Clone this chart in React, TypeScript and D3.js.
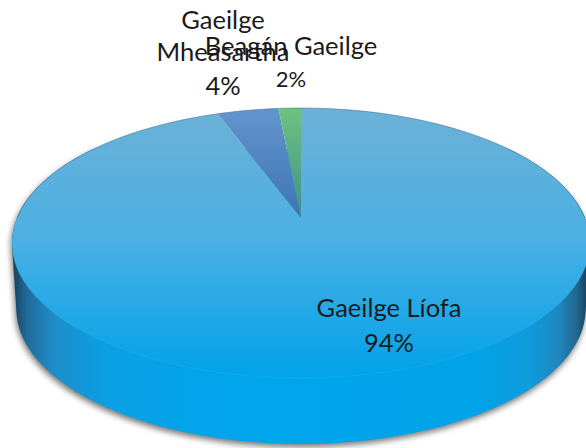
import React from "react";
import * as d3 from "d3";

const categories = ["Gaeilge Líofa", "Gaeilge Mheasartha", "Beagán Gaeilge"];
const sliceValues = [94.4, 4.1, 1.5];
const percentLabels = ["94%", "4%", "2%"];
const sliceColors = ["url(#topGrad)", "url(#midGrad)", "url(#greenGrad)"];

const W = 586, H = 448;
const apexX = 301, apexY = 218;
const persp = 0.185, scaleX = 284, scaleY = -90;
const depth = 66;

// perspective projection of the unit pie disc on to the page
const project = (a: number, lift = 0, shrink = 1): [number, number] => {
  const u = Math.sin(a), v = Math.cos(a);
  const d = 1 + persp * v;
  return [apexX + (scaleX * shrink * u) / d, (apexY + scaleY * v) / d + lift];
};

const line = d3.line();
const arcPoints = (a0: number, a1: number, lift = 0, shrink = 1) =>
  d3.range(0, 121).map((i) => project(a0 + ((a1 - a0) * i) / 120, lift, shrink));

const pie = d3.pie<number>().sort(null).startAngle(0).endAngle(2 * Math.PI);
const arcs = pie(sliceValues);

const slicePath = (a0: number, a1: number) =>
  line([[apexX, apexY], ...arcPoints(a0, a1)]) + "Z";

// silhouette of the disc's side wall: convex hull of top rim and bottom rim
const sidePath = () => {
  const top = arcPoints(Math.PI * 0.3, Math.PI * 1.7);
  const bottom = arcPoints(Math.PI * 1.7, Math.PI * 0.3, depth, 0.985);
  return line(d3.polygonHull([...top, ...bottom])!) + "Z";
};

const labelFont = "Lato, 'Open Sans', sans-serif";
const labelSize = 25.5;

export default function App() {
  return (
    <svg
      width={W}
      height={H}
      viewBox={`0 0 ${W} ${H}`}
      style={{ position: "absolute", left: 0, top: 0, display: "block" }}
    >
      <defs>
        <linearGradient id="topGrad" gradientUnits="userSpaceOnUse" x1="0" y1="108" x2="0" y2="368">
          <stop offset="0" stopColor="#6bb1d7" />
          <stop offset="0.48" stopColor="#4db0e2" />
          <stop offset="1" stopColor="#05a3e9" />
        </linearGradient>
        <linearGradient id="midGrad" gradientUnits="userSpaceOnUse" x1="0" y1="108" x2="0" y2="218">
          <stop offset="0" stopColor="#6395cd" />
          <stop offset="1" stopColor="#3f74b4" />
        </linearGradient>
        <linearGradient id="greenGrad" gradientUnits="userSpaceOnUse" x1="0" y1="108" x2="0" y2="218">
          <stop offset="0" stopColor="#6cc37e" />
          <stop offset="1" stopColor="#3f8f90" />
        </linearGradient>
        <linearGradient id="sideGrad" gradientUnits="userSpaceOnUse" x1="12" y1="0" x2="588" y2="0">
          <stop offset="0" stopColor="#173f5c" />
          <stop offset="0.025" stopColor="#1f6a98" />
          <stop offset="0.07" stopColor="#1f8cc8" />
          <stop offset="0.16" stopColor="#0a9fe3" />
          <stop offset="0.36" stopColor="#00a5ec" />
          <stop offset="0.8" stopColor="#00a3e8" />
          <stop offset="0.9" stopColor="#0f9bdc" />
          <stop offset="0.95" stopColor="#1f86bd" />
          <stop offset="0.98" stopColor="#22688f" />
          <stop offset="1" stopColor="#173f5c" />
        </linearGradient>
        <filter id="shadow" x="-10%" y="-10%" width="120%" height="120%">
          <feGaussianBlur stdDeviation="3" />
        </filter>
      </defs>

      <path d={sidePath()} fill="#000" opacity={0.55} filter="url(#shadow)" transform="translate(-1,3)" />
      <path d={sidePath()} fill="url(#sideGrad)" />

      {arcs.map((a, i) => (
        <path key={categories[i]} d={slicePath(a.startAngle, a.endAngle)} fill={sliceColors[i]} />
      ))}
      <path d={line(arcPoints(Math.PI * 0.5, Math.PI * 1.5))!} fill="none" stroke="#7cc7ee" strokeOpacity={0.15} strokeWidth={1} />
      <path d={line(arcPoints(-Math.PI * 0.5, Math.PI * 0.5))!} fill="none" stroke="#345f7c" strokeOpacity={0.6} strokeWidth={0.8} />

      <g fontFamily={labelFont} fontSize={labelSize} fill="#1a1a1a" textAnchor="middle">
        <text x={223} y={29}>Gaeilge</text>
        <text x={223} y={61}>Mheasartha</text>
        <text x={223} y={95}>{percentLabels[1]}</text>
        <text x={291} y={55}>{categories[2]}</text>
        <text x={291} y={87} fontSize={22}>{percentLabels[2]}</text>
        <text x={389} y={317}>{categories[0]}</text>
        <text x={389} y={352}>{percentLabels[0]}</text>
      </g>
    </svg>
  );
}
